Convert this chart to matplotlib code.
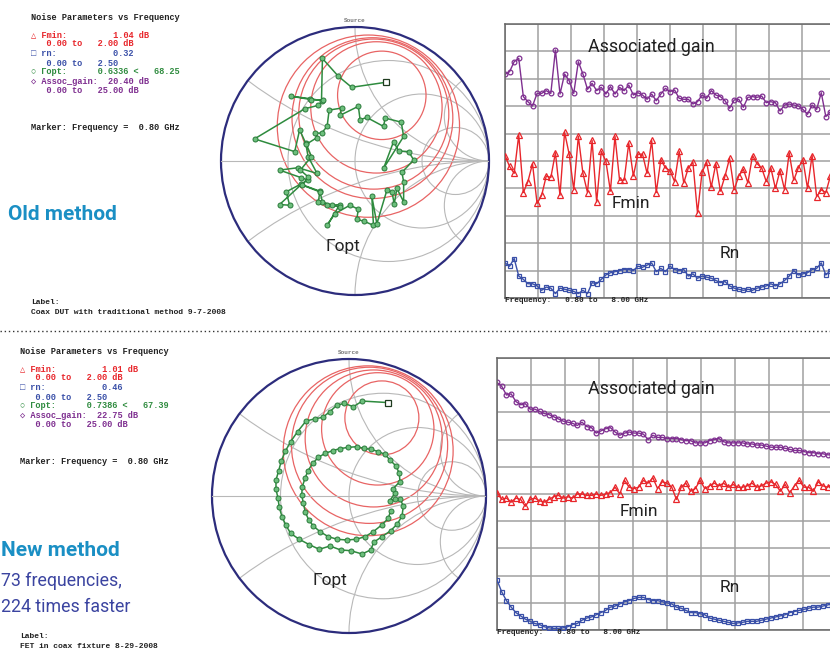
import numpy as np
import matplotlib.pyplot as plt
from matplotlib.patches import Circle
from matplotlib.lines import Line2D

W, H = 830, 652

# 73 measurement frequencies, 0.8 to 8.0 GHz
freq = np.round(np.arange(0.8, 8.05, 0.1), 2)

# ---- old method (traditional) ----
old_gain = [20.40, 20.65, 21.56, 21.87, 18.37, 17.91, 17.52, 18.67, 18.67, 18.92,
            18.67, 22.63, 18.61, 20.44, 19.83, 18.67, 21.56, 20.44, 19.04, 19.59,
            18.92, 19.22, 18.61, 19.28, 18.61, 19.22, 18.92, 19.43, 18.52, 18.73,
            18.52, 18.13, 18.61, 18.00, 18.61, 19.13, 18.83, 18.98, 18.22, 18.13,
            18.13, 17.70, 17.91, 18.52, 18.22, 18.92, 18.52, 18.37, 18.00, 17.31,
            18.07, 18.13, 17.40, 18.31, 18.37, 18.31, 18.43, 17.82, 17.91, 17.82,
            17.06, 17.61, 17.70, 17.61, 17.52, 17.21, 16.76, 17.61, 17.21, 18.73,
            16.55, 17.00, 17.20]
old_fmin = [1.04, 0.96, 0.91, 1.19, 0.77, 0.85, 0.98, 0.69, 0.75, 0.89,
            0.88, 1.06, 0.75, 1.21, 1.05, 0.79, 1.18, 0.91, 0.77, 1.15,
            0.70, 1.07, 1.00, 0.78, 1.18, 0.86, 0.86, 1.13, 0.89, 1.05,
            1.05, 0.91, 1.15, 0.77, 1.01, 0.95, 0.93, 0.85, 1.07, 0.84,
            0.95, 0.99, 0.62, 0.92, 0.99, 0.81, 0.98, 0.78, 0.89, 1.02,
            0.79, 0.89, 0.94, 0.84, 1.04, 0.98, 0.95, 0.85, 0.95, 0.80,
            0.93, 0.79, 1.06, 0.86, 0.95, 1.01, 0.80, 1.04, 0.74, 0.79,
            0.77, 0.89, 1.03]
old_rn = [0.32, 0.29, 0.36, 0.20, 0.17, 0.13, 0.13, 0.11, 0.07, 0.10,
          0.09, 0.04, 0.09, 0.08, 0.07, 0.06, 0.04, 0.07, 0.04, 0.14,
          0.13, 0.17, 0.21, 0.23, 0.24, 0.25, 0.26, 0.26, 0.25, 0.29,
          0.28, 0.30, 0.32, 0.24, 0.27, 0.24, 0.29, 0.26, 0.25, 0.26,
          0.20, 0.22, 0.18, 0.20, 0.19, 0.18, 0.16, 0.14, 0.15, 0.11,
          0.09, 0.08, 0.07, 0.08, 0.07, 0.09, 0.10, 0.11, 0.13, 0.11,
          0.13, 0.16, 0.20, 0.25, 0.21, 0.22, 0.23, 0.26, 0.27, 0.32,
          0.21, 0.25, 0.27]
old_gopt_re = [0.235, -0.025, -0.125, -0.243, -0.25, -0.333, -0.475, -0.325, -0.238, -0.275,
               -0.375, -0.75, -0.45, -0.413, -0.368, -0.35, -0.283, -0.425, -0.563, -0.40,
               -0.35, -0.513, -0.488, -0.563, -0.40, -0.263, -0.243, -0.175, -0.113, -0.208,
               -0.15, -0.038, 0.025, 0.013, 0.068, 0.138, 0.125, 0.163, 0.238, 0.275,
               0.293, 0.313, 0.363, 0.363, 0.35, 0.438, 0.40, 0.325, 0.288, 0.213,
               0.363, 0.345, 0.225, 0.213, 0.088, 0.038, 0.025, -0.113, -0.10, -0.193,
               -0.208, -0.25, -0.30, -0.283, -0.363, -0.325, -0.408, -0.35, -0.393, -0.263,
               -0.273, -0.208, -0.113]
old_gopt_im = [0.588, 0.55, 0.633, 0.765, 0.45, 0.465, 0.483, 0.458, 0.455, 0.415,
               0.39, 0.165, 0.07, 0.233, 0.133, 0.033, -0.093, -0.05, -0.068, -0.125,
               -0.143, -0.23, -0.33, -0.325, -0.175, -0.225, -0.305, -0.33, -0.325, -0.48,
               -0.393, -0.33, -0.36, -0.435, -0.45, -0.48, -0.26, -0.468, -0.218, -0.23,
               -0.318, -0.205, -0.305, -0.155, -0.085, 0.008, 0.07, 0.075, 0.145, -0.055,
               0.183, 0.29, 0.32, 0.258, 0.325, 0.308, 0.408, 0.34, 0.395, 0.38,
               0.258, 0.208, 0.208, 0.175, 0.125, 0.033, -0.068, -0.118, -0.18, -0.23,
               -0.305, -0.325, -0.343]
old_nc_x = [0.20, 0.16, 0.14, 0.13, 0.10]
old_nc_y = [0.49, 0.40, 0.35, 0.32, 0.26]
old_nc_r = [0.33, 0.49, 0.56, 0.60, 0.68]

# ---- new method ----
new_gain = [22.75, 22.4, 21.6, 21.7, 21.0, 20.7, 20.8, 20.3, 20.3, 20.1,
            19.9, 19.8, 19.6, 19.4, 19.2, 19.1, 19.0, 18.8, 19.1, 18.7,
            18.6, 18.1, 18.3, 18.5, 18.6, 18.2, 17.9, 18.1, 18.2, 18.1,
            18.1, 18.0, 17.5, 17.9, 17.7, 17.7, 17.6, 17.6, 17.6, 17.5,
            17.4, 17.4, 17.2, 17.2, 17.2, 17.4, 17.5, 17.6, 17.3, 17.2,
            17.2, 17.2, 17.2, 17.1, 17.1, 17.0, 17.0, 16.9, 16.8, 16.8,
            16.8, 16.7, 16.6, 16.5, 16.5, 16.4, 16.3, 16.3, 16.2, 16.2,
            16.1, 16.1, 16.1]
new_fmin = [1.01, 0.96, 0.97, 0.94, 0.97, 0.96, 0.91, 0.96, 0.97, 0.95,
            0.94, 0.96, 0.98, 0.99, 0.97, 0.98, 0.97, 1.00, 1.00, 0.99,
            0.99, 1.00, 0.99, 1.00, 1.01, 1.05, 1.00, 1.10, 1.05, 1.04,
            1.05, 1.10, 1.08, 1.12, 1.04, 1.09, 1.08, 1.05, 0.96, 1.05,
            1.08, 1.02, 1.04, 1.10, 1.04, 1.06, 1.08, 1.06, 1.08, 1.05,
            1.07, 1.05, 1.05, 1.06, 1.08, 1.05, 1.06, 1.08, 1.09, 1.07,
            1.02, 1.07, 1.01, 1.06, 1.10, 1.05, 1.05, 1.02, 1.09, 1.06,
            1.05, 1.07, 1.06]
new_rn = [0.46, 0.35, 0.27, 0.21, 0.16, 0.13, 0.10, 0.08, 0.06, 0.05,
          0.03, 0.02, 0.015, 0.015, 0.02, 0.03, 0.05, 0.06, 0.09, 0.11,
          0.12, 0.14, 0.16, 0.18, 0.21, 0.22, 0.24, 0.26, 0.27, 0.29,
          0.30, 0.30, 0.28, 0.27, 0.27, 0.26, 0.25, 0.24, 0.21, 0.20,
          0.18, 0.16, 0.16, 0.15, 0.14, 0.11, 0.10, 0.09, 0.08, 0.07,
          0.06, 0.065, 0.07, 0.08, 0.08, 0.08, 0.09, 0.10, 0.11, 0.12,
          0.13, 0.14, 0.16, 0.17, 0.18, 0.19, 0.20, 0.21, 0.21, 0.22,
          0.23, 0.24, 0.24]
new_gopt_re = [0.284, 0.097, 0.032, -0.036, -0.09, -0.139, -0.192, -0.248, -0.314, -0.375,
               -0.426, -0.465, -0.494, -0.513, -0.533, -0.533, -0.518, -0.509, -0.489, -0.46,
               -0.426, -0.363, -0.29, -0.217, -0.139, -0.061, 0.012, 0.095, 0.158, 0.182,
               0.241, 0.304, 0.353, 0.387, 0.397, 0.372, 0.336, 0.299, 0.333, 0.319,
               0.372, 0.367, 0.343, 0.299, 0.263, 0.214, 0.158, 0.109, 0.056, -0.005,
               -0.066, -0.119, -0.175, -0.224, -0.265, -0.299, -0.321, -0.341, -0.345, -0.333,
               -0.319, -0.294, -0.26, -0.212, -0.151, -0.085, -0.017, 0.051, 0.117, 0.178,
               0.238, 0.287, 0.304]
new_gopt_im = [0.682, 0.693, 0.652, 0.676, 0.662, 0.616, 0.574, 0.564, 0.547, 0.47,
               0.397, 0.326, 0.258, 0.185, 0.117, 0.049, -0.017, -0.083, -0.151, -0.214,
               -0.273, -0.316, -0.355, -0.389, -0.365, -0.394, -0.399, -0.423, -0.394, -0.336,
               -0.297, -0.253, -0.204, -0.146, -0.071, -0.024, -0.024, -0.034, 0.019, 0.051,
               0.105, 0.165, 0.219, 0.263, 0.304, 0.324, 0.341, 0.348, 0.36, 0.355,
               0.346, 0.331, 0.311, 0.282, 0.238, 0.185, 0.129, 0.068, 0.007, -0.054,
               -0.117, -0.175, -0.219, -0.26, -0.297, -0.316, -0.321, -0.316, -0.297, -0.26,
               -0.212, -0.163, -0.107]
new_nc_x = [0.24, 0.21, 0.18, 0.15, 0.14]
new_nc_y = [0.57, 0.49, 0.42, 0.37, 0.33]
new_nc_r = [0.27, 0.41, 0.50, 0.57, 0.62]

smith_r = [1 / 3, 1, 3]
smith_x = [1 / 3, 1, 3]

RED = '#e8262b'
BLUE = '#3a50a8'
GREEN = '#2e8b3e'
PURPLE = '#7f2f90'
MONO = ['Liberation Mono', 'DejaVu Sans Mono']
SANS = ['Roboto', 'DejaVu Sans']

fig = plt.figure(figsize=(W / 100, H / 100), dpi=100)


def box(x0, y0, w, h):
    return [x0 / W, 1 - (y0 + h) / H, w / W, h / H]


def ftext(x, y, s, **kw):
    fig.text(x / W, 1 - y / H, s, va='center', **kw)


def smith(cx, cy, R, gre, gim, ncx, ncy, ncr):
    ax = fig.add_axes(box(cx - R, cy - R, 2 * R, 2 * R))
    ax.set_xlim(-1, 1)
    ax.set_ylim(-1, 1)
    ax.axis('off')
    clip = Circle((0, 0), 1, transform=ax.transData)
    for r in smith_r:
        c = Circle((r / (1 + r), 0), 1 / (1 + r), fill=False, ec='#b8b8b8', lw=0.8)
        ax.add_patch(c)
        c.set_clip_path(clip)
    for x in smith_x:
        for s in (1, -1):
            c = Circle((1, s / x), 1 / x, fill=False, ec='#b8b8b8', lw=0.8)
            ax.add_patch(c)
            c.set_clip_path(clip)
    ax.plot([-1, 1], [0, 0], color='#b8b8b8', lw=0.8)
    for x, y, r in zip(ncx, ncy, ncr):
        c = Circle((x, y), r, fill=False, ec='#e86464', lw=0.9)
        ax.add_patch(c)
        c.set_clip_path(clip)
    ax.add_patch(Circle((0, 0), 1, fill=False, ec='#2c2c7c', lw=1.6, clip_on=False))
    ax.plot(gre, gim, '-o', color=GREEN, lw=1.1, ms=3.6, mfc='#6cbf7c', mec='#2a7a3a', mew=0.7)
    ax.plot(gre[0], gim[0], 's', ms=4.2, mfc='white', mec='#1e3a1e', mew=0.9)
    ftext(cx, cy - R - 6, 'Source', ha='center', fontsize=4.3, color='#777777',
          family=MONO, weight='bold')


def traces(x0, y0, w, h, gain, fmin, rn):
    ax = fig.add_axes(box(x0, y0, w, h))
    ax.set_xlim(0.8, 8.0)
    ax.set_ylim(0, 25)
    ax.set_xticks(np.linspace(0.8, 8.0, 11))
    ax.set_yticks(np.linspace(0, 25, 11))
    ax.tick_params(length=0, labelbottom=False, labelleft=False)
    ax.grid(True, color='#a0a0a0', lw=1.1)
    for sp in ax.spines.values():
        sp.set_color('#666666')
        sp.set_linewidth(1.1)
    ax.plot(freq, gain, '-o', color=PURPLE, lw=1.0, ms=3.4, mfc='none', mew=0.9)
    a2 = ax.twinx()
    a2.set_ylim(0, 2)
    a2.set_axis_off()
    a2.plot(freq, fmin, '-^', color=RED, lw=1.0, ms=3.8, mfc='none', mew=0.9)
    a3 = ax.twinx()
    a3.set_ylim(0, 2.5)
    a3.set_axis_off()
    a3.plot(freq, rn, '-s', color=BLUE, lw=1.0, ms=3.4, mfc='none', mew=0.9)
    ftext(x0, y0 + h + 3, 'Frequency:   0.80 to   8.00 GHz', fontsize=5.6,
          family=MONO, weight='bold', color='#222222')


def block(x0, y0, fmin, rn, gmag, gang, gain, label):
    rows = [
        (0, 'Noise Parameters vs Frequency', '#222222'),
        (17.5, '\u25b3 Fmin:         %.2f dB' % fmin, RED),
        (27, '   0.00 to   2.00 dB', RED),
        (36, '\u25a1 rn:           %.2f' % rn, BLUE),
        (46, '   0.00 to   2.50', BLUE),
        (55, '\u25cb \u0393opt:      %.4f <   %.2f' % (gmag, gang), GREEN),
        (64, '\u25c7 Assoc_gain:  %.2f dB' % gain, PURPLE),
        (73.5, '   0.00 to   25.00 dB', PURPLE),
        (110, 'Marker: Frequency =  0.80 GHz', '#222222'),
    ]
    for dy, s, col in rows:
        ftext(x0, y0 + dy, s, fontsize=6.2, family=MONO, weight='bold', color=col)
    ftext(x0, label[0], 'Label:', fontsize=5.8, family=MONO, weight='bold', color='#222222')
    ftext(x0, label[0] + 10, label[1], fontsize=5.8, family=MONO, weight='bold',
          color='#222222')


# ---------- top: old method ----------
block(31, 17, 1.04, 0.32, 0.6336, 68.25, 20.40,
      (303, 'Coax DUT with traditional method 9-7-2008'))
smith(355, 161, 134, old_gopt_re, old_gopt_im, old_nc_x, old_nc_y, old_nc_r)
traces(505, 24, 330, 274, old_gain, old_fmin, old_rn)
ftext(8, 215, 'Old method', fontsize=15, weight='bold', color='#1a8fc4', family=SANS)
ftext(325, 246, '\u0393opt', fontsize=12.5, color='#222222', family=SANS)
ftext(588, 47, 'Associated gain', fontsize=12.8, color='#222222', family=SANS)
ftext(612, 204, 'Fmin', fontsize=12.5, color='#222222', family=SANS)
ftext(720, 253, 'Rn', fontsize=12.5, color='#222222', family=SANS)

# dotted separator
fig.add_artist(Line2D([0, 1], [1 - 331 / H, 1 - 331 / H], transform=fig.transFigure,
                      color='#333333', lw=1.0, ls=(0, (1, 2))))

# ---------- bottom: new method ----------
block(20, 351, 1.01, 0.46, 0.7386, 67.39, 22.75,
      (637, 'FET in coax fixture 8-29-2008'))
smith(349, 496, 137, new_gopt_re, new_gopt_im, new_nc_x, new_nc_y, new_nc_r)
traces(497, 358, 340, 272, new_gain, new_fmin, new_rn)
ftext(1, 550, 'New method', fontsize=15, weight='bold', color='#1a8fc4', family=SANS)
ftext(1, 581, '73 frequencies,', fontsize=12.8, color='#3b44a0', family=SANS)
ftext(1, 607, '224 times faster', fontsize=12.8, color='#3b44a0', family=SANS)
ftext(313, 580, '\u0393opt', fontsize=12.5, color='#222222', family=SANS)
ftext(588, 389, 'Associated gain', fontsize=12.8, color='#222222', family=SANS)
ftext(620, 512, 'Fmin', fontsize=12.5, color='#222222', family=SANS)
ftext(720, 588, 'Rn', fontsize=12.5, color='#222222', family=SANS)

fig.savefig('out.png', dpi=100)
